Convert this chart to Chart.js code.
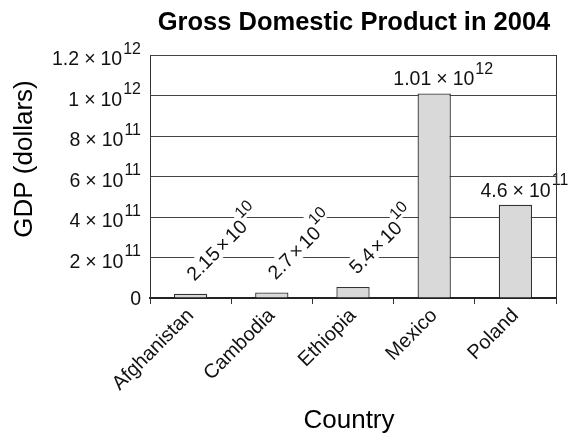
<!DOCTYPE html>
<html>
<head>
<meta charset="utf-8">
<script src="https://cdn.jsdelivr.net/npm/chart.js@4.4.1/dist/chart.umd.min.js"></script>
<style>
  body { margin: 0; background: #fff; }
  #wrap { width: 577px; height: 434px; }
</style>
</head>
<body>
<div id="wrap"><canvas id="gdp-chart" width="577" height="434"></canvas></div>
<script>
const countries = ['Afghanistan', 'Cambodia', 'Ethiopia', 'Mexico', 'Poland'];
const gdp = [2.15e10, 2.7e10, 5.4e10, 1.01e12, 4.6e11];
const yTicks = [0, 2e11, 4e11, 6e11, 8e11, 1e12, 1.2e12];
const chartTitle = 'Gross Domestic Product in 2004';
const xTitle = 'Country';
const yTitle = 'GDP (dollars)';

const FONT = '"Liberation Sans", Arial, Helvetica, sans-serif';
const INK = '#111';
const NUM = { size: 19.5, supSize: 16, raise: 11.5 };

// pieces of "m × 10^e"
function sciParts(v) {
  if (v === 0) return ['0'];
  const exp = Math.floor(Math.log10(v) + 1e-9);
  const mant = parseFloat((v / Math.pow(10, exp)).toPrecision(3));
  return [String(mant), '\u00d7', '10', String(exp)];
}

// draws the number with a raised exponent, baseline at y; returns its width
function drawSci(ctx, x, y, value, o) {
  const parts = sciParts(value);
  const baseFont = `${NUM.size}px ${FONT}`;
  const supFont = `${NUM.supSize}px ${FONT}`;
  const widths = parts.map((t, k) => {
    ctx.font = k === 3 ? supFont : baseFont;
    return ctx.measureText(t).width;
  });
  const gaps = [0, o.gap, o.gap, 1];
  let w = 0;
  widths.forEach((pw, k) => { w += pw + (k > 0 ? gaps[k] : 0); });
  let x0 = x;
  if (o.align === 'right') x0 = x - w;
  else if (o.align === 'center') x0 = x - w / 2;
  if (o.bg !== undefined) {
    // white backing behind the base text and behind the exponent
    const pad = o.bg;
    const wExp = parts.length > 1 ? widths[3] + gaps[3] : 0;
    ctx.fillStyle = '#fff';
    ctx.fillRect(x0 - pad - 1, y - NUM.size * 0.74 - pad, w - wExp + 2 * pad + 1, NUM.size * 0.74 + 2 * pad);
    if (wExp) {
      const ex = x0 + w - wExp;
      const top = y - NUM.raise - NUM.supSize * 0.74 - pad;
      ctx.fillRect(ex - 1, top, wExp + pad + 1, NUM.supSize * 0.74 + 2 * pad);
    }
  }
  ctx.fillStyle = INK;
  ctx.textAlign = 'left';
  ctx.textBaseline = 'alphabetic';
  let cx = x0;
  parts.forEach((t, k) => {
    if (k > 0) cx += gaps[k];
    ctx.font = k === 3 ? supFont : baseFont;
    ctx.fillText(t, cx, k === 3 ? y - NUM.raise : y);
    cx += widths[k];
  });
  return w;
}

const decorations = {
  id: 'decorations',
  afterDatasetsDraw(chart) {
    const ctx = chart.ctx;
    const meta = chart.getDatasetMeta(0);
    ctx.save();
    meta.data.forEach((bar, i) => {
      const { x, y, base } = bar.getProps(['x', 'y', 'base'], true);
      if (base - y < 40) {
        // short bars get a slanted label
        ctx.save();
        ctx.translate(x + 4, y - 12);
        ctx.rotate(-Math.PI / 4);
        drawSci(ctx, 0, 0, gdp[i], { align: 'left', gap: 2.5, bg: 3 });
        ctx.restore();
      } else {
        drawSci(ctx, x + 9, y - 8, gdp[i], { align: 'center', gap: 5 });
      }
    });
    ctx.restore();
  },
  afterDraw(chart) {
    const ctx = chart.ctx;
    const area = chart.chartArea;
    const yScale = chart.scales.y;
    ctx.save();
    // right frame edge
    ctx.strokeStyle = '#333';
    ctx.lineWidth = 1;
    ctx.beginPath();
    ctx.moveTo(Math.round(area.right) + 0.5, area.top);
    ctx.lineTo(Math.round(area.right) + 0.5, area.bottom);
    ctx.stroke();

    // y tick labels, centred as a whole on their grid line
    yTicks.forEach(v => {
      const py = yScale.getPixelForValue(v);
      const shift = v === 0 ? 6.5 : 10;
      drawSci(ctx, area.left - 9, py + shift, v, { align: 'right', gap: 5 });
    });

    // titles
    ctx.fillStyle = '#000';
    ctx.textAlign = 'center';
    ctx.textBaseline = 'alphabetic';
    ctx.font = `bold 25.5px ${FONT}`;
    ctx.fillText(chartTitle, (area.left + area.right) / 2 + 1, 30);

    ctx.font = `26px ${FONT}`;
    ctx.fillText(xTitle, (area.left + area.right) / 2 - 4, 428);

    ctx.save();
    ctx.translate(32, area.top + 104);
    ctx.rotate(-Math.PI / 2);
    ctx.fillText(yTitle, 0, 0);
    ctx.restore();
    ctx.restore();
  }
};

const ctx = document.getElementById('gdp-chart').getContext('2d');
new Chart(ctx, {
  type: 'bar',
  data: {
    labels: countries,
    datasets: [{
      data: gdp,
      backgroundColor: '#d9d9d9',
      borderColor: '#333',
      borderWidth: 1.3,
      borderSkipped: 'bottom',
      categoryPercentage: 1,
      barPercentage: 0.41
    }]
  },
  options: {
    responsive: false,
    animation: false,
    devicePixelRatio: 1,
    layout: { padding: { top: 55, right: 21, left: 0, bottom: 0 } },
    scales: {
      x: {
        grid: { offset: true, drawOnChartArea: false, drawTicks: true, tickLength: 6, color: '#333' },
        border: { display: true, color: '#222', width: 2 },
        ticks: {
          autoSkip: false, maxRotation: 45, minRotation: 45, padding: 0,
          color: INK, font: { family: FONT, size: 20 }
        },
        afterFit(scale) { scale.height = 136; }
      },
      y: {
        min: 0,
        max: 1.2e12,
        afterBuildTicks(scale) { scale.ticks = yTicks.map(v => ({ value: v })); },
        grid: { drawTicks: false, color: '#444', lineWidth: 1 },
        border: { display: true, color: '#333', width: 1 },
        ticks: { display: false },
        afterFit(scale) { scale.width = 150; }
      }
    },
    plugins: {
      legend: { display: false },
      title: { display: false },
      tooltip: { enabled: false }
    }
  },
  plugins: [decorations]
});
</script>
</body>
</html>
